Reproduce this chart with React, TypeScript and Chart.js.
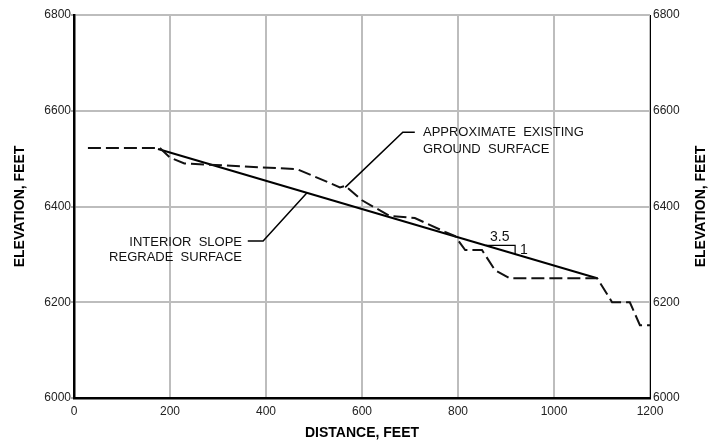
import React, { useEffect, useRef } from "react";
import { Chart, registerables } from "chart.js";

Chart.register(...registerables);

// Data (distance in feet, elevation in feet)
const groundDistance = [29, 179, 200, 230, 465, 554, 565, 600, 658, 710, 773, 794, 815, 850, 877, 908, 1090, 1121, 1158, 1179, 1200];
const groundElevation = [6522, 6522, 6502, 6490, 6478, 6440, 6443, 6413, 6380, 6376, 6347, 6338, 6309, 6309, 6267, 6250, 6250, 6200, 6200, 6152, 6152];
const regradeDistance = [175, 1090];
const regradeElevation = [6520, 6250];

const xTicks = [0, 200, 400, 600, 800, 1000, 1200];
const yTicks = [6000, 6200, 6400, 6600, 6800];

const xTitle = "DISTANCE, FEET";
const yTitle = "ELEVATION, FEET";
const groundLabel = ["APPROXIMATE  EXISTING", "GROUND  SURFACE"];
const regradeLabel = ["INTERIOR  SLOPE", "REGRADE  SURFACE"];
const slopeRun = "3.5";
const slopeRise = "1";

// annotation anchors (data coords)
const groundLeader = [[565, 6440], [685, 6555], [710, 6555]];
const groundTextAt = [727, 6555, 6520];
const regradeLeader = [[485, 6428], [394, 6328], [362, 6328]];
const regradeTextAt = [350, 6326, 6294];
const slopeTri = [[858, 6319], [919, 6319], [919, 6300]];
const slopeRunAt = [887, 6336];
const slopeRiseAt = [929, 6308];

const annotPlugin = {
  id: "annot",
  afterDatasetsDraw(chart: any) {
    const ctx = chart.ctx;
    const x = chart.scales.x;
    const y = chart.scales.y;
    const px = (v: number) => x.getPixelForValue(v);
    const py = (v: number) => y.getPixelForValue(v);
    ctx.save();
    ctx.strokeStyle = "#000";
    ctx.fillStyle = "#111";
    ctx.lineWidth = 1.5;
    const poly = (pts: number[][]) => {
      ctx.beginPath();
      pts.forEach((p, i) => (i ? ctx.lineTo(px(p[0]), py(p[1])) : ctx.moveTo(px(p[0]), py(p[1]))));
      ctx.stroke();
    };
    poly(groundLeader);
    poly(regradeLeader);
    ctx.lineWidth = 1.2;
    poly(slopeTri);

    ctx.font = '13px "Liberation Sans", Arial, sans-serif';
    ctx.textBaseline = "middle";
    ctx.textAlign = "left";
    ctx.fillText(groundLabel[0], px(groundTextAt[0]), py(groundTextAt[1]));
    ctx.fillText(groundLabel[1], px(groundTextAt[0]), py(groundTextAt[2]));
    ctx.textAlign = "right";
    ctx.fillText(regradeLabel[0], px(regradeTextAt[0]), py(regradeTextAt[1]));
    ctx.fillText(regradeLabel[1], px(regradeTextAt[0]), py(regradeTextAt[2]));
    ctx.font = '14px "Liberation Sans", Arial, sans-serif';
    ctx.textAlign = "center";
    ctx.fillText(slopeRun, px(slopeRunAt[0]), py(slopeRunAt[1]));
    ctx.textAlign = "left";
    ctx.fillText(slopeRise, px(slopeRiseAt[0]), py(slopeRiseAt[1]));

    // axis titles
    const area = chart.chartArea;
    ctx.fillStyle = "#000";
    ctx.font = 'bold 14px "Liberation Sans", Arial, sans-serif';
    ctx.textAlign = "center";
    ctx.fillText(xTitle, (area.left + area.right) / 2, 433);
    const midY = (area.top + area.bottom) / 2;
    ctx.save();
    ctx.translate(20, midY);
    ctx.rotate(-Math.PI / 2);
    ctx.fillText(yTitle, 0, 0);
    ctx.restore();
    ctx.save();
    ctx.translate(701, midY);
    ctx.rotate(-Math.PI / 2);
    ctx.fillText(yTitle, 0, 0);
    ctx.restore();
    ctx.restore();
  },
};

const plain = (v: any) => String(v);

export default function App() {
  const ref = useRef<HTMLCanvasElement>(null);
  useEffect(() => {
    if (!ref.current) return;
    const tickFont = { family: '"Liberation Sans", Arial, sans-serif', size: 12 };
    const chart = new Chart(ref.current, {
      type: "scatter",
      data: {
        datasets: [
          {
            label: "ground",
            data: groundDistance.map((d, i) => ({ x: d, y: groundElevation[i] })),
            showLine: true,
            borderColor: "#111",
            borderWidth: 2,
            borderDash: [13, 5],
            pointRadius: 0,
            fill: false,
          },
          {
            label: "regrade",
            data: regradeDistance.map((d, i) => ({ x: d, y: regradeElevation[i] })),
            showLine: true,
            borderColor: "#000",
            borderWidth: 2,
            pointRadius: 0,
            fill: false,
          },
        ],
      },
      options: {
        animation: false,
        responsive: false,
        layout: { padding: { top: 15, left: 0, right: 0, bottom: 0 } },
        plugins: { legend: { display: false }, tooltip: { enabled: false } },
        scales: {
          x: {
            type: "linear",
            min: 0,
            max: 1200,
            afterFit: (s: any) => { s.height = 46; },
            afterBuildTicks: (s: any) => { s.ticks = xTicks.map((v) => ({ value: v })); },
            ticks: { color: "#222", font: tickFont, padding: 6, maxRotation: 0, callback: plain },
            grid: { color: "#bdbdbd", lineWidth: 2, drawTicks: false },
            border: { color: "#000", width: 2.5 },
          },
          y: {
            position: "left",
            min: 6000,
            max: 6800,
            afterFit: (s: any) => { s.width = 74; },
            afterBuildTicks: (s: any) => { s.ticks = yTicks.map((v) => ({ value: v })); },
            ticks: { color: "#222", font: tickFont, padding: 0, callback: plain },
            grid: { color: "#bdbdbd", lineWidth: 2, tickLength: 3, tickColor: "#555", tickWidth: 1 },
            border: { color: "#000", width: 2.5 },
          },
          y2: {
            position: "right",
            min: 6000,
            max: 6800,
            afterFit: (s: any) => { s.width = 69; },
            afterBuildTicks: (s: any) => { s.ticks = yTicks.map((v) => ({ value: v })); },
            ticks: { color: "#222", font: tickFont, padding: 3, callback: plain },
            grid: { display: false, drawTicks: false },
            border: { color: "#000", width: 1 },
          },
        },
      },
      plugins: [annotPlugin],
    } as any);
    return () => chart.destroy();
  }, []);
  return (
    <div style={{ position: "absolute", left: 0, top: 0, width: 719, height: 444, background: "#fff" }}>
      <canvas ref={ref} width={719} height={444} style={{ width: 719, height: 444, display: "block" }} />
    </div>
  );
}
